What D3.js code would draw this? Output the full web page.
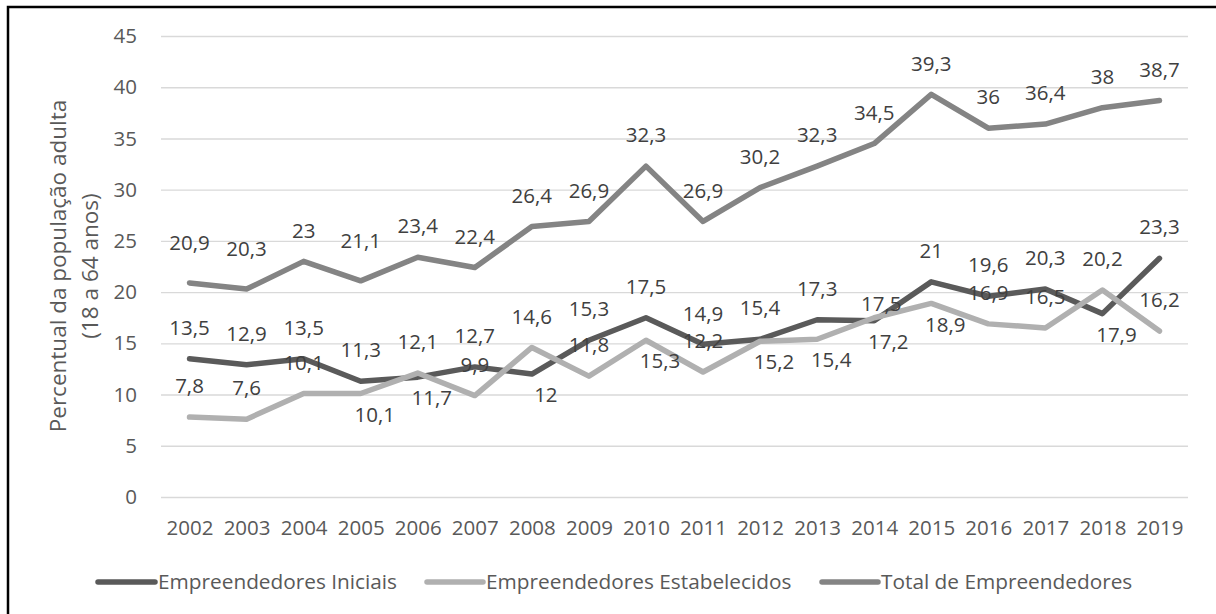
<!DOCTYPE html>
<html>
<head>
<meta charset="utf-8">
<script src="https://cdn.jsdelivr.net/npm/d3@7"></script>
<style>
  html, body { margin: 0; padding: 0; background: #fff; }
  svg { display: block; font-family: "Open Sans", Lato, sans-serif; }
</style>
</head>
<body>
<svg id="chart" width="1216" height="614"></svg>
<script>
// Years on the horizontal axis
const years = [2002, 2003, 2004, 2005, 2006, 2007, 2008, 2009, 2010,
               2011, 2012, 2013, 2014, 2015, 2016, 2017, 2018, 2019];

// Early-stage entrepreneurs (% of adults 18-64)
const iniciais = [13.5, 12.9, 13.5, 11.3, 11.7, 12.7, 12.0, 15.3, 17.5,
                  14.9, 15.4, 17.3, 17.2, 21.0, 19.6, 20.3, 17.9, 23.3];

// Established entrepreneurs
const estabelecidos = [7.8, 7.6, 10.1, 10.1, 12.1, 9.9, 14.6, 11.8, 15.3,
                       12.2, 15.2, 15.4, 17.5, 18.9, 16.9, 16.5, 20.2, 16.2];

// Total entrepreneurs
const total = [20.9, 20.3, 23.0, 21.1, 23.4, 22.4, 26.4, 26.9, 32.3,
               26.9, 30.2, 32.3, 34.5, 39.3, 36.0, 36.4, 38.0, 38.7];

// Vertical axis ticks
const yTicks = [0, 5, 10, 15, 20, 25, 30, 35, 40, 45];

const seriesNames = ["Empreendedores Iniciais", "Empreendedores Estabelecidos", "Total de Empreendedores"];
const axisTitle = ["Percentual da população adulta", "(18 a 64 anos)"];

// ---- styling ----
const colors = ["#5a5a5a", "#b0b0b0", "#848484"];
const lineWidth = 5.5;
const labelColor = "#404040";
const tickColor = "#595959";
const fontSize = 20.5;
const fontFamily = "'Open Sans', Lato, sans-serif";

// Where each value label sits relative to its point
const placements = {
  above: { dx: 0, dy: -31 },
  below: { dx: 14, dy: 21 },
  high:  { dx: 0, dy: -40 },
  near:  { dx: 7, dy: -14 }
};
const labelSide = [
  { 2006: "below", 2008: "below", 2014: "below", 2018: "below" },
  { 2005: "below", 2010: "below", 2012: "below", 2013: "below", 2014: "near", 2015: "below" },
  { 2002: "high", 2003: "high", 2005: "high" }
];

const series = [iniciais, estabelecidos, total].map((vals, i) => ({
  name: seriesNames[i],
  color: colors[i],
  points: years.map((yr, j) => ({ year: yr, value: vals[j] })),
  side: labelSide[i]
}));

const svg = d3.select("#chart");

// outer frame
svg.append("rect")
  .attr("x", 8).attr("y", 7)
  .attr("width", 1230).attr("height", 630)
  .attr("fill", "none")
  .attr("stroke", "#000")
  .attr("stroke-width", 2.5);

const plot = { left: 161, right: 1188, top: 36, bottom: 497 };

const x = d3.scalePoint()
  .domain(years)
  .range([plot.left, plot.right])
  .padding(0.5);

const y = d3.scaleLinear()
  .domain([0, 45])
  .range([plot.bottom, plot.top]);

// y axis with gridlines
const yAxis = svg.append("g")
  .attr("transform", `translate(${plot.left},0)`)
  .call(d3.axisLeft(y)
    .tickValues(yTicks)
    .tickSizeInner(-(plot.right - plot.left))
    .tickSizeOuter(0)
    .tickPadding(24));
yAxis.select(".domain").remove();
yAxis.selectAll(".tick line")
  .attr("stroke", "#d9d9d9")
  .attr("stroke-width", 1.4);
yAxis.selectAll(".tick text")
  .attr("fill", tickColor)
  .style("font-size", fontSize + "px")
  .style("font-family", fontFamily);

// x axis labels
const xAxis = svg.append("g")
  .attr("transform", `translate(0,${plot.bottom})`)
  .call(d3.axisBottom(x).tickSize(0).tickPadding(23));
xAxis.select(".domain").remove();
xAxis.selectAll(".tick text")
  .attr("fill", tickColor)
  .style("font-size", fontSize + "px")
  .style("font-family", fontFamily);

// axis title (two rotated lines)
const title = svg.append("text")
  .attr("transform", "translate(58,266) rotate(-90)")
  .attr("text-anchor", "middle")
  .attr("fill", tickColor)
  .style("font-size", "22.5px");
title.selectAll("tspan")
  .data(axisTitle)
  .join("tspan")
  .attr("x", 0)
  .attr("dy", (d, i) => i === 0 ? "0.35em" : "32px")
  .text(d => d);

// lines
const line = d3.line()
  .x(d => x(d.year))
  .y(d => y(d.value));

svg.append("g")
  .selectAll("path")
  .data(series)
  .join("path")
  .attr("d", d => line(d.points))
  .attr("fill", "none")
  .attr("stroke", d => d.color)
  .attr("stroke-width", lineWidth)
  .attr("stroke-linecap", "round")
  .attr("stroke-linejoin", "round");

// value labels
const fmt = v => String(v).replace(".", ",");
const labels = svg.append("g")
  .style("font-size", fontSize + "px")
  .attr("fill", labelColor)
  .attr("text-anchor", "middle");
series.forEach(s => {
  labels.selectAll(null)
    .data(s.points)
    .join("text")
    .attr("x", d => x(d.year) + placements[s.side[d.year] || "above"].dx)
    .attr("y", d => y(d.value) + placements[s.side[d.year] || "above"].dy)
    .attr("dy", "0.35em")
    .text(d => fmt(d.value));
});

// legend
const legendItems = [
  { x0: 98, x1: 155 },
  { x0: 427, x1: 483 },
  { x0: 822, x1: 878 }
];
const legendY = 582;
const legend = svg.append("g");
series.forEach((s, i) => {
  const it = legendItems[i];
  legend.append("line")
    .attr("x1", it.x0).attr("x2", it.x1)
    .attr("y1", legendY).attr("y2", legendY)
    .attr("stroke", s.color)
    .attr("stroke-width", lineWidth)
    .attr("stroke-linecap", "round");
  legend.append("text")
    .attr("x", it.x1 + 3)
    .attr("y", legendY)
    .attr("dy", "0.35em")
    .attr("fill", tickColor)
    .style("font-size", "20.8px")
    .text(s.name);
});
</script>
</body>
</html>
